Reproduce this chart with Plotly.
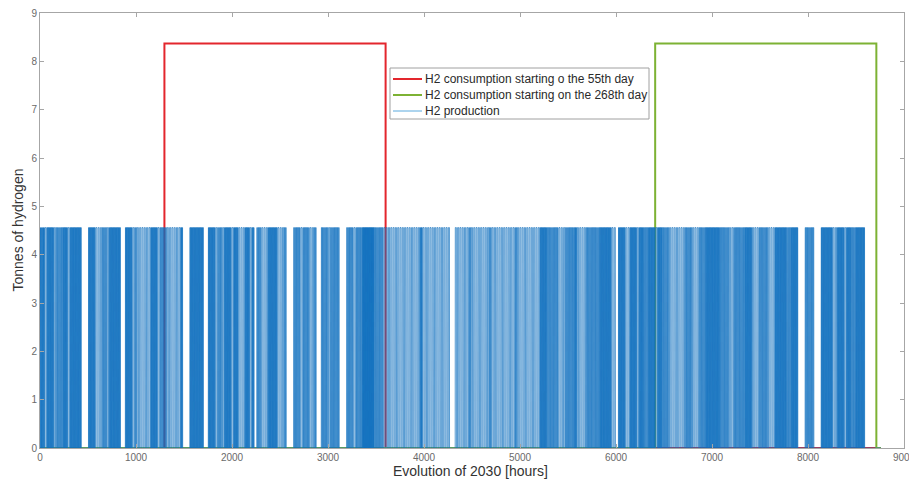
import numpy as np
import plotly.graph_objects as go

# ---- data -------------------------------------------------------------
HOURS_IN_YEAR = 8760

consumption_level = 8.37          # tonnes of H2 per hour during a consumption window
production_level = 4.56           # tonnes of H2 per hour when the electrolyser runs

consumption_55_window = [1296, 3600]    # start / end hour, consumption starting on day 55
consumption_268_window = [6408, 8712]   # start / end hour, consumption starting on day 268

series_names = [
    "H2 consumption starting o the 55th day",
    "H2 consumption starting on the 268th day",
    "H2 production",
]
series_colors = ["#e3262d", "#7db234", "#5aa9dd"]

# Hourly on-periods of the electrolyser for a day, keyed by the number of
# production pulses in that day.
day_profiles = {
    0: [],
    1: [(6, 18)],
    2: [(3, 9), (15, 21)],
    3: [(2, 6), (10, 14), (18, 22)],
    4: [(1, 4), (7, 10), (13, 16), (19, 22)],
}

# Run-length list over the year: (number of days, production pulses per day)
production_runs = [
    (2, 3), (1, 1), (3, 3), (1, 1), (3, 2), (2, 3), (1, 1), (5, 3),
    (3, 0),
    (3, 3), (3, 1), (2, 2), (1, 1), (5, 3),
    (2, 0),
    (3, 3), (1, 1), (1, 2), (6, 1), (3, 3), (1, 1), (3, 2), (6, 1), (1, 3),
    (3, 0),
    (6, 3),
    (2, 0),
    (3, 3), (1, 1), (2, 2), (1, 1), (3, 3), (1, 1), (2, 3), (3, 1), (2, 3),
    (1, 1), (1, 3), (1, 0),
    (2, 2), (3, 1), (4, 3), (3, 1), (1, 2),
    (3, 0),
    (3, 2), (1, 1), (3, 2), (2, 1), (1, 2),
    (2, 0),
    (3, 2), (1, 1), (4, 2),
    (3, 0),
    (3, 2), (1, 1), (3, 2), (5, 4), (4, 2),
    (16, 1), (1, 3), (11, 1),
    (1, 1), (2, 0),
    (6, 1), (1, 2), (8, 1), (1, 2), (10, 1), (1, 2), (10, 1),
    (3, 3),
    (5, 2), (3, 1), (4, 2), (1, 3), (4, 1), (6, 2), (5, 3), (2, 1),
    (1, 0),
    (3, 3), (2, 1), (3, 3), (1, 1), (2, 3), (2, 2), (3, 3), (1, 1), (2, 3), (3, 2), (3, 1),
    (4, 1), (3, 2), (3, 1), (3, 2),
    (6, 3),
    (4, 2), (2, 1), (5, 2), (3, 3), (3, 1), (4, 2),
    (3, 1),
    (5, 3), (2, 2), (3, 3),
    (3, 0),
    (4, 2),
    (3, 0),
    (5, 3), (2, 1), (3, 3), (1, 1), (2, 3), (2, 2), (4, 3),
    (7, 0),
]

x_ticks = list(range(0, 9001, 1000))
y_ticks = list(range(0, 10))

# ---- build series -----------------------------------------------------
pulses_per_day = []
for n_days, pulses in production_runs:
    pulses_per_day += [pulses] * n_days
assert len(pulses_per_day) == 365

hours = np.arange(HOURS_IN_YEAR)
production = np.zeros(HOURS_IN_YEAR)
for day, pulses in enumerate(pulses_per_day):
    for start, end in day_profiles[pulses]:
        production[day * 24 + start: day * 24 + end] = production_level


def step_profile(window):
    s, e = window
    x = [0, s, s, e, e, HOURS_IN_YEAR]
    y = [0, 0, consumption_level, consumption_level, 0, 0]
    return x, y


red_x, red_y = step_profile(consumption_55_window)
green_x, green_y = step_profile(consumption_268_window)

# ---- figure -----------------------------------------------------------
FONT = "Liberation Sans, Arial, sans-serif"
W, H = 909, 484
M_L, M_R, M_T, M_B = 40, 5, 13, 36
PW, PH = W - M_L - M_R, H - M_T - M_B


def px_x(px):
    return (px - M_L) / PW


def px_y(py):
    return (H - M_B - py) / PH


fig = go.Figure()
fig.add_trace(go.Scatter(
    x=red_x, y=red_y, mode="lines",
    line=dict(color=series_colors[0], width=2),
    name=series_names[0], showlegend=False,
))
fig.add_trace(go.Scatter(
    x=green_x, y=green_y, mode="lines",
    line=dict(color=series_colors[1], width=2),
    name=series_names[1], showlegend=False,
))
fig.add_trace(go.Scatter(
    x=hours, y=production, mode="lines",
    line=dict(color="#1070bf", width=0.7),
    name=series_names[2], showlegend=False,
))

axis_common = dict(
    showgrid=False, zeroline=False, automargin=False,
    showline=True, linecolor="#a6a6a6", linewidth=1, mirror="ticks",
    ticks="inside", ticklen=4, tickcolor="#a6a6a6",
    tickfont=dict(family=FONT, size=10, color="#6a6a6a"),
)

# legend box, drawn in paper coordinates
shapes = [dict(type="rect", xref="paper", yref="paper",
               x0=px_x(390), x1=px_x(649), y0=px_y(119), y1=px_y(68),
               line=dict(color="#a0a0a0", width=1), fillcolor="white", layer="above")]
annotations = []
row_y = [79, 95, 111]
for name, color, ry, lw in zip(series_names, series_colors, row_y, [2, 2, 1]):
    shapes.append(dict(type="line", xref="paper", yref="paper",
                       x0=px_x(393), x1=px_x(422), y0=px_y(ry), y1=px_y(ry),
                       line=dict(color=color, width=lw), layer="above"))
    annotations.append(dict(text=name, xref="paper", yref="paper",
                            x=px_x(423), y=px_y(ry), xanchor="left", yanchor="middle",
                            showarrow=False,
                            font=dict(family=FONT, size=12, color="#2a2a2a")))

annotations += [
    dict(text="Evolution of 2030 [hours]", xref="paper", yref="paper",
         x=px_x(470), y=px_y(471), xanchor="center", yanchor="middle",
         showarrow=False, font=dict(family=FONT, size=14, color="#333333")),
    dict(text="Tonnes of hydrogen", xref="paper", yref="paper",
         x=px_x(17), y=0.5, xanchor="center", yanchor="middle", textangle=-90,
         showarrow=False, font=dict(family=FONT, size=14, color="#333333")),
]

fig.update_layout(
    width=W, height=H,
    margin=dict(l=M_L, r=M_R, t=M_T, b=M_B, autoexpand=False),
    paper_bgcolor="white", plot_bgcolor="white",
    font=dict(family=FONT),
    xaxis=dict(range=[0, 9000], tickvals=x_ticks, ticklabeloverflow="allow",
               **axis_common),
    yaxis=dict(range=[0, 9], tickvals=y_ticks, **axis_common),
    showlegend=False,
    shapes=shapes,
    annotations=annotations,
)

fig.write_html("out.html")
